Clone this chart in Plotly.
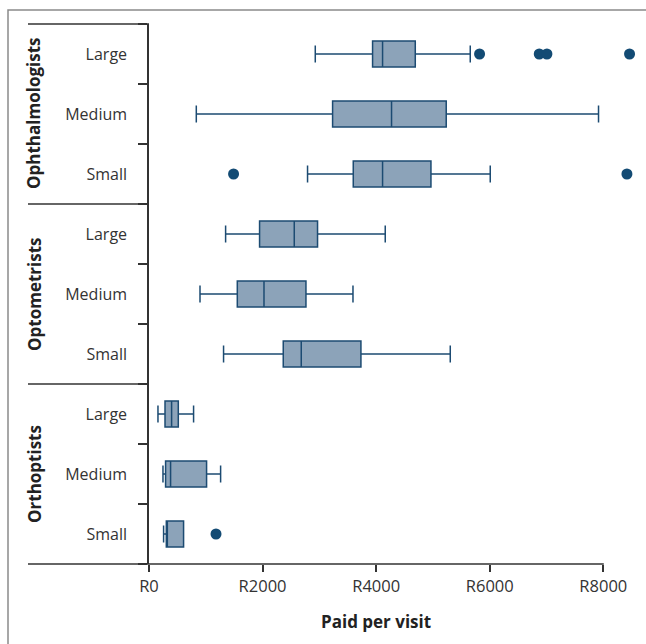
import plotly.graph_objects as go

groups = ["Ophthalmologists", "Optometrists", "Orthoptists"]
sizes = ["Large", "Medium", "Small"]

# Box statistics (rand), per group × size, in display order
q1 = [3937, 3233, 3597, 1947, 1555, 2364, 282, 292, 305]
median = [4113, 4271, 4113, 2558, 2025, 2681, 398, 380, 310]
q3 = [4689, 5234, 4965, 2968, 2764, 3732, 516, 1014, 609]
lowerfence = [2928, 833, 2792, 1349, 898, 1313, 158, 246, 257]
upperfence = [5657, 7916, 6009, 4160, 3592, 5305, 785, 1261, 609]

# Outliers: (row index, value)
outlier_rows = [0, 0, 0, 0, 2, 2, 8]
outlier_vals = [5821, 6872, 7007, 8462, 1489, 8416, 1180]

x_tickvals = [0, 2000, 4000, 6000, 8000]
x_ticktext = ["R0", "R2000", "R4000", "R6000", "R8000"]

cats = [f"{g} {s}" for g in groups for s in sizes]
cat_labels = [s for g in groups for s in sizes]

FILL = "#8ca3b9"
LINE = "#1c4b72"
DOT = "#134b74"
AX = "#333333"
FONT = "Open Sans"

W, H = 646, 644
ML, MR, MT, MB = 149, 6, 24, 80
PW = W - ML - MR
PH = H - MT - MB
X0_PX, X8000_PX = 149.0, 603.3
XMAX = 8000 * (W - MR - X0_PX) / (X8000_PX - X0_PX)

def px_x(px):
    return (px - ML) / PW

def px_y(py):
    return (H - MB - py) / PH

fig = go.Figure()
for i, c in enumerate(cats):
    fig.add_trace(go.Box(
        y=[c], q1=[q1[i]], median=[median[i]], q3=[q3[i]],
        lowerfence=[lowerfence[i]], upperfence=[upperfence[i]],
        orientation="h", boxpoints=False,
        fillcolor=FILL, line=dict(color=LINE, width=1.5),
        whiskerwidth=0.65, width=0.43, showlegend=False,
        hoverinfo="skip",
    ))

fig.add_trace(go.Scatter(
    x=outlier_vals, y=[cats[r] for r in outlier_rows], mode="markers",
    marker=dict(color=DOT, size=11), cliponaxis=False, showlegend=False,
    hoverinfo="skip",
))

fig.update_layout(
    width=W, height=H,
    margin=dict(l=ML, r=MR, t=MT, b=MB),
    paper_bgcolor="white", plot_bgcolor="white",
    boxmode="overlay",
    font=dict(family=FONT, color=AX, size=15),
    xaxis=dict(
        range=[0, XMAX], tickvals=x_tickvals, ticktext=x_ticktext,
        showgrid=False, zeroline=False, showline=False,
        ticks="outside", ticklen=7, tickcolor=AX, tickwidth=1.5,
        tickfont=dict(size=16.5, color="#333"),
    ),
    yaxis=dict(
        type="category", categoryorder="array", categoryarray=cats,
        range=[8.5, -0.5], tickvals=cats, ticktext=cat_labels,
        tickson="boundaries", ticks="outside", ticklen=9, tickcolor=AX, tickwidth=1.5,
        showgrid=False, zeroline=False, showline=True, linecolor=AX, linewidth=1.5,
        tickfont=dict(size=16, color="#333"), ticklabelstandoff=17,
    ),
)

shapes = []
for py in [24, 204, 384]:
    shapes.append(dict(type="line", xref="paper", yref="paper",
                       x0=px_x(28), x1=0, y0=px_y(py), y1=px_y(py),
                       line=dict(color=AX, width=1.5)))
# bottom axis line, extended under the category labels, ending at R8000
shapes.append(dict(type="line", xref="paper", yref="paper",
                   x0=px_x(28), x1=px_x(X8000_PX) + 0.001, y0=0, y1=0,
                   line=dict(color=AX, width=1.5)))
shapes.append(dict(type="rect", xref="paper", yref="paper",
                   x0=px_x(8), x1=px_x(700), y0=px_y(10), y1=px_y(700),
                   line=dict(color="#8a8a8a", width=1.5), layer="below"))
fig.update_layout(shapes=shapes)

for gi, g in enumerate(groups):
    fig.add_annotation(text=f"<b>{g}</b>", xref="paper", yref="paper",
                       x=px_x(34), y=px_y(114 + gi * 180), textangle=-90,
                       showarrow=False, font=dict(size=17, color="#222"),
                       xanchor="center", yanchor="middle")

fig.add_annotation(text="<b>Paid per visit</b>", xref="x", yref="paper",
                   x=4000, y=px_y(621), showarrow=False,
                   font=dict(size=17, color="#222"),
                   xanchor="center", yanchor="middle")

fig.write_html(
    "out.html",
    config={"displayModeBar": False},
    post_script="document.body.style.margin='0';document.body.style.overflow='hidden';",
)
